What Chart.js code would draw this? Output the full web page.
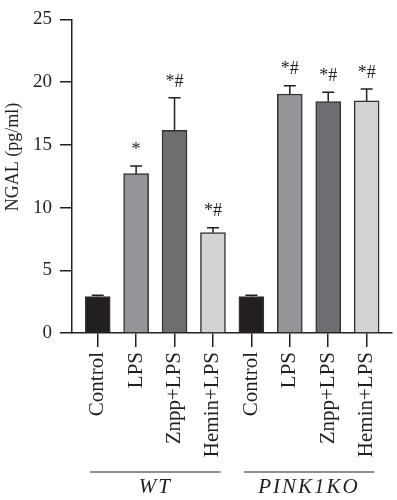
<!DOCTYPE html>
<html>
<head>
<meta charset="utf-8">
<script src="https://cdn.jsdelivr.net/npm/chart.js@4.4.1/dist/chart.umd.min.js"></script>
<style>
  body { margin: 0; background: #fff; }
  #wrap { width: 397px; height: 500px; }
</style>
</head>
<body>
<div id="wrap"><canvas id="grafico" width="397" height="500"></canvas></div>
<script>
// datos
const categorias = ['Control', 'LPS', 'Znpp+LPS', 'Hemin+LPS', 'Control', 'LPS', 'Znpp+LPS', 'Hemin+LPS'];
const ngal = [2.9, 12.7, 16.15, 8.0, 2.9, 19.05, 18.45, 18.5];
const errores = [0.1, 0.62, 2.6, 0.4, 0.1, 0.67, 0.75, 0.95];
const signif = ['', '*', '*#', '*#', '', '*#', '*#', '*#'];
const grupos = ['WT', 'PINK1KO'];
const grupoInicio = [0, 4];
const grupoFin = [3, 7];
const yTicks = [0, 5, 10, 15, 20, 25];

const colores = ['#231f20', '#939598', '#6d6e71', '#d1d3d4', '#231f20', '#939598', '#6d6e71', '#d1d3d4'];
const tinta = '#231f20';
const fuente = '"Liberation Serif", "Times New Roman", serif';

// barras de error + asteriscos
const errorBars = {
    id: 'errorBars',
    afterDatasetsDraw(chart) {
        let ctx = chart.ctx;
        let x = chart.scales.x, y = chart.scales.y;
        ctx.save();
        ctx.strokeStyle = tinta;
        ctx.lineWidth = 1.5;
        ngal.forEach((v, i) => {
            let px = x.getPixelForValue(i);
            let top = y.getPixelForValue(v);
            let tope = y.getPixelForValue(v + errores[i]);
            ctx.beginPath();
            ctx.moveTo(px, top);
            ctx.lineTo(px, tope);
            ctx.moveTo(px - 6, tope);
            ctx.lineTo(px + 6, tope);
            ctx.stroke();
            if (signif[i]) {
                ctx.fillStyle = tinta;
                ctx.font = '18px ' + fuente;
                ctx.textAlign = 'center';
                ctx.textBaseline = 'middle';
                ctx.fillText(signif[i], px, tope - 16);
            }
        });
        ctx.restore();
    }
};

// titulo del eje y y grupos WT / PINK1KO
const extras = {
    id: 'extras',
    afterDraw(chart) {
        let ctx = chart.ctx;
        let x = chart.scales.x;
        ctx.save();
        ctx.fillStyle = tinta;
        ctx.font = '18px ' + fuente;
        ctx.translate(13, 157);
        ctx.rotate(-Math.PI / 2);
        ctx.textAlign = 'center';
        ctx.textBaseline = 'middle';
        ctx.fillText('NGAL (pg/ml)', 0, 0);
        ctx.restore();

        ctx.save();
        ctx.strokeStyle = tinta;
        ctx.fillStyle = tinta;
        ctx.lineWidth = 1.2;
        grupos.forEach((g, i) => {
            let x1 = x.getPixelForValue(grupoInicio[i] - 0.2);
            let x2 = x.getPixelForValue(grupoFin[i] + 0.2);
            ctx.beginPath();
            ctx.moveTo(x1, 472);
            ctx.lineTo(x2, 472);
            ctx.stroke();
            ctx.font = 'italic 21px ' + fuente;
            ctx.letterSpacing = '2px';
            ctx.textAlign = 'center';
            ctx.textBaseline = 'alphabetic';
            ctx.fillText(g, (x1 + x2) / 2, 493);
        });
        ctx.restore();
    }
};

let ctx = document.getElementById('grafico').getContext('2d');
new Chart(ctx, {
    type: 'bar',
    data: {
        datasets: [{
            label: 'NGAL',
            data: ngal.map((v, i) => ({ x: i, y: v })),
            backgroundColor: colores,
            borderColor: '#333333',
            borderWidth: 1.5,
            barThickness: 25
        }]
    },
    options: {
        responsive: false,
        animation: false,
        layout: { padding: { top: 11, right: 2, left: 0, bottom: 0 } },
        plugins: {
            legend: { display: false },
            tooltip: { enabled: false }
        },
        scales: {
            x: {
                type: 'linear',
                min: -0.669,
                max: 7.643,
                offset: false,
                afterBuildTicks: s => { s.ticks = categorias.map((c, i) => ({ value: i })); },
                afterFit: s => { s.height = 167; },
                ticks: {
                    autoSkip: false,
                    minRotation: 90,
                    maxRotation: 90,
                    padding: 5,
                    color: tinta,
                    font: { family: fuente, size: 21 },
                    callback: v => categorias[v]
                },
                grid: { offset: false, drawOnChartArea: false, drawTicks: true, tickLength: 14, color: tinta, lineWidth: 1.5 },
                border: { display: true, color: tinta, width: 1.5 }
            },
            y: {
                min: 0,
                max: 25,
                afterBuildTicks: s => { s.ticks = yTicks.map(v => ({ value: v })); },
                afterFit: s => { s.width = 72; },
                ticks: {
                    padding: 8,
                    color: tinta,
                    font: { family: fuente, size: 19 }
                },
                grid: { drawOnChartArea: false, drawTicks: true, tickLength: 12, color: tinta, lineWidth: 1.5 },
                border: { display: true, color: tinta, width: 1.5 }
            }
        }
    },
    plugins: [errorBars, extras]
});
</script>
</body>
</html>
